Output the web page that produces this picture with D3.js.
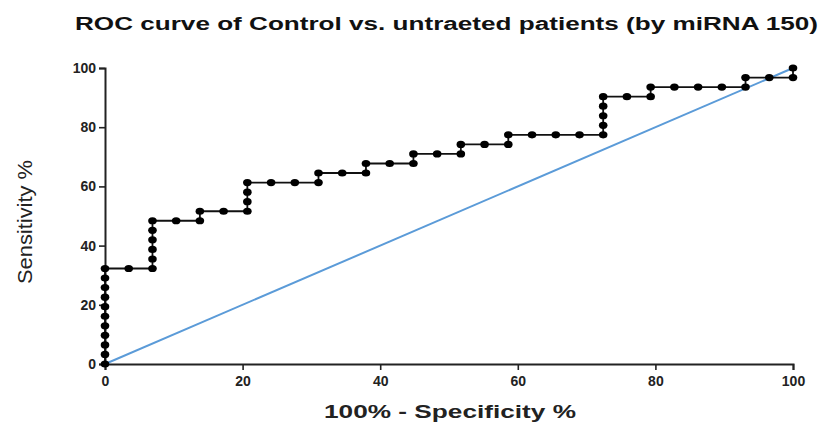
<!DOCTYPE html>
<html lang="en">
<head>
<meta charset="UTF-8">
<title>ROC curve</title>
<script src="https://cdn.jsdelivr.net/npm/d3@7"></script>
<style>
  body { margin: 0; background: #fff; }
  svg { display: block; font-family: "Liberation Sans", Arial, sans-serif; }
</style>
</head>
<body>
<div id="chart"></div>
<script>
// ROC points (100% - specificity, sensitivity)
const fpr = [0, 0, 0, 0, 0, 0, 0, 0, 0, 0, 0,
  3.45, 6.90, 6.90, 6.90, 6.90, 6.90, 6.90,
  10.34, 13.79, 13.79,
  17.24, 20.69, 20.69, 20.69, 20.69,
  24.14, 27.59, 31.03, 31.03,
  34.48, 37.93, 37.93,
  41.38, 44.83, 44.83,
  48.28, 51.72, 51.72,
  55.17, 58.62, 58.62,
  62.07, 65.52, 68.97, 72.41, 72.41, 72.41, 72.41, 72.41,
  75.86, 79.31, 79.31,
  82.76, 86.21, 89.66, 93.10, 93.10,
  96.55, 100, 100];
const tpr = [0, 3.23, 6.45, 9.68, 12.90, 16.13, 19.35, 22.58, 25.81, 29.03, 32.26,
  32.26, 32.26, 35.48, 38.71, 41.94, 45.16, 48.39,
  48.39, 48.39, 51.61,
  51.61, 51.61, 54.84, 58.06, 61.29,
  61.29, 61.29, 61.29, 64.52,
  64.52, 64.52, 67.74,
  67.74, 67.74, 70.97,
  70.97, 70.97, 74.19,
  74.19, 74.19, 77.42,
  77.42, 77.42, 77.42, 77.42, 80.65, 83.87, 87.10, 90.32,
  90.32, 90.32, 93.55,
  93.55, 93.55, 93.55, 93.55, 96.77,
  96.77, 96.77, 100];
const refLine = [[0, 0], [100, 100]];
const ticks = [0, 20, 40, 60, 80, 100];

const width = 825, height = 425;
const margin = {top: 68, right: 32, bottom: 61, left: 105};

const svg = d3.select("#chart").append("svg")
    .attr("width", width)
    .attr("height", height);

const x = d3.scaleLinear().domain([0, 100]).range([margin.left, width - margin.right]);
const y = d3.scaleLinear().domain([0, 100]).range([height - margin.bottom, margin.top]);

// title
svg.append("text")
    .attr("x", 75).attr("y", 30)
    .attr("textLength", 743).attr("lengthAdjust", "spacingAndGlyphs")
    .attr("font-size", 18).attr("font-weight", "bold").attr("fill", "#111")
    .text("ROC curve of Control vs. untraeted patients (by miRNA 150)");

// axes
const xAxis = svg.append("g")
    .attr("transform", `translate(0,${y(0)})`)
    .call(d3.axisBottom(x).tickValues(ticks).tickSize(6).tickPadding(6));
const yAxis = svg.append("g")
    .attr("transform", `translate(${x(0)},0)`)
    .call(d3.axisLeft(y).tickValues(ticks).tickSize(6).tickPadding(3));

[xAxis, yAxis].forEach(g => {
  g.select(".domain").attr("stroke", "#222").attr("stroke-width", 2);
  g.selectAll(".tick line").attr("stroke", "#222").attr("stroke-width", 1.6);
  g.selectAll(".tick text")
      .attr("font-family", "Liberation Sans, Arial, sans-serif")
      .attr("font-size", 14).attr("font-weight", "bold").attr("fill", "#222");
});

// axis titles
svg.append("text")
    .attr("x", (x(0) + x(100)) / 2 + 1).attr("y", 418)
    .attr("text-anchor", "middle")
    .attr("textLength", 252).attr("lengthAdjust", "spacingAndGlyphs")
    .attr("font-size", 19).attr("font-weight", "bold").attr("fill", "#222")
    .text("100% - Specificity %");

svg.append("text")
    .attr("transform", `translate(32,${(y(0) + y(100)) / 2 + 6}) rotate(-90)`)
    .attr("text-anchor", "middle")
    .attr("textLength", 124).attr("lengthAdjust", "spacingAndGlyphs")
    .attr("font-size", 21).attr("fill", "#222")
    .text("Sensitivity %");

// reference diagonal
svg.append("path")
    .datum(refLine)
    .attr("d", d3.line().x(d => x(d[0])).y(d => y(d[1])))
    .attr("fill", "none").attr("stroke", "#5b9bd8").attr("stroke-width", 2);

// ROC curve
const pts = fpr.map((v, i) => ({fx: v, ty: tpr[i]}));
svg.append("path")
    .datum(pts)
    .attr("d", d3.line().x(d => x(d.fx)).y(d => y(d.ty)))
    .attr("fill", "none").attr("stroke", "#111").attr("stroke-width", 1.8);

svg.append("g").selectAll("ellipse")
    .data(pts)
    .join("ellipse")
    .attr("cx", d => x(d.fx)).attr("cy", d => y(d.ty))
    .attr("rx", 4.3).attr("ry", 3.6)
    .attr("fill", "#000");
</script>
</body>
</html>
